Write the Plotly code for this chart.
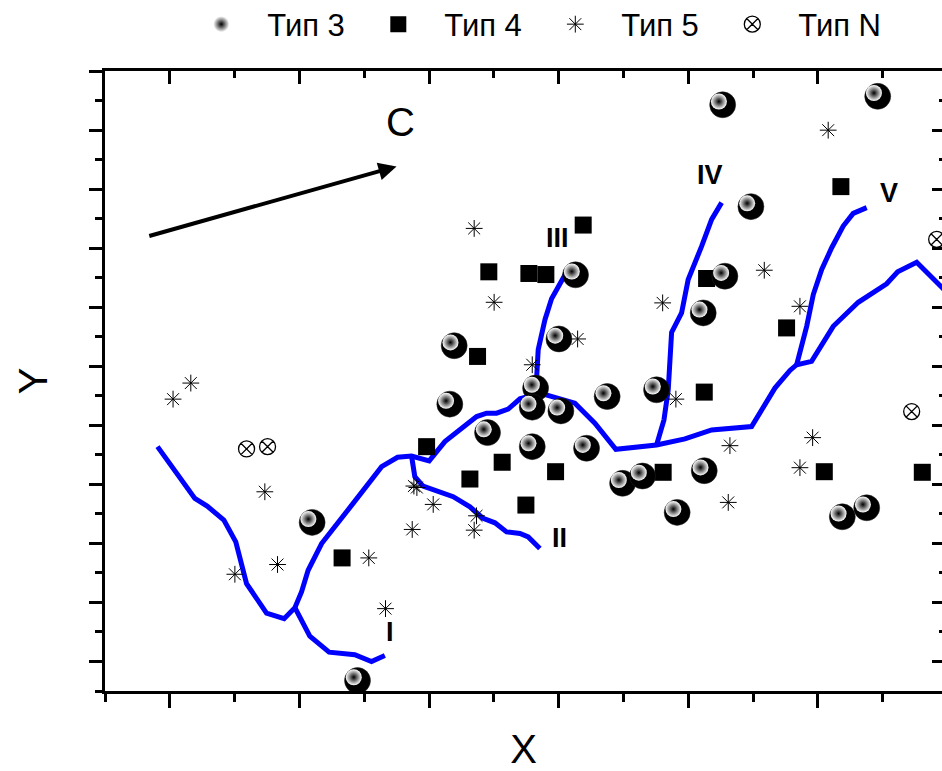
import plotly.graph_objs as go

# Тип 3 (balls)
type3_x = [4.265, 5.461, 4.483, 3.130, 4.282, 4.115, 3.002, 2.194, 2.822, 2.796, 3.017, 2.160, 2.451,
           3.374, 3.755, 2.796, 3.215, 3.493, 3.647, 4.123, 3.914, 5.188, 5.376, 1.098, 1.448]
type3_y = [9.428, 9.571, 7.703, 6.548, 6.525, 5.903, 5.462, 5.348, 4.630, 4.307, 4.244, 4.358, 3.876,
           4.487, 4.601, 3.638, 3.611, 3.017, 3.141, 3.231, 2.525, 2.450, 2.603, 2.355, -0.323]

# Тип 4 (squares)
type4_x = [2.461, 2.374, 3.189, 2.770, 2.901, 4.141, 5.177, 4.758, 1.981, 2.315, 2.564, 1.329,
           2.747, 4.123, 2.976, 3.806, 5.049, 5.805]
type4_y = [6.599, 5.166, 7.391, 6.571, 6.553, 6.486, 8.042, 5.649, 3.638, 3.090, 3.374, 1.754,
           2.649, 4.562, 3.214, 3.204, 3.214, 3.204]

# Тип 5 (asterisks)
type5_x = [2.348, 2.502, 5.079, 4.586, 3.802, 4.861, 3.146, 2.796, 0.025, 0.162, 0.733, 0.502, 0.831,
           1.535, 1.664, 1.883, 1.906, 2.032, 1.870, 2.366, 2.348, 3.904, 4.321, 4.959, 4.861, 4.308]
type5_y = [7.334, 6.083, 8.998, 6.626, 6.073, 6.015, 5.462, 5.025, 4.443, 4.715, 2.874, 1.477, 1.642,
           1.754, 0.895, 2.971, 2.946, 2.660, 2.236, 2.467, 2.224, 4.443, 3.655, 3.791, 3.282, 2.694]

# Тип N
typeN_x = [0.592, 0.754, 5.723, 5.916]
typeN_y = [3.599, 3.638, 4.233, 7.148]

# blue lines
trunk_x = [-0.095, 0.193, 0.288, 0.417, 0.509, 0.592, 0.746, 0.882, 0.965, 1.016, 1.067, 1.171, 1.414,
           1.634, 1.757, 1.865, 2.001, 2.122, 2.367, 2.444, 2.521, 2.610, 2.701, 2.832, 2.855, 3.125,
           3.279, 3.441, 3.755, 3.974, 4.180, 4.488, 4.668, 4.784, 4.836, 4.951, 5.118, 5.311, 5.530,
           5.615, 5.762, 5.980]
trunk_y = [3.638, 2.762, 2.632, 2.394, 2.025, 1.319, 0.820, 0.725, 0.912, 1.177, 1.545, 1.998, 2.677,
           3.299, 3.458, 3.480, 3.396, 3.723, 4.148, 4.205, 4.205, 4.273, 4.448, 4.533, 4.545, 4.375,
           4.036, 3.594, 3.667, 3.769, 3.922, 3.978, 4.630, 4.929, 5.026, 5.082, 5.676, 6.083, 6.396,
           6.599, 6.762, 6.282]

branch1_x = [0.965, 1.080, 1.229, 1.427, 1.556, 1.659]
branch1_y = [0.912, 0.430, 0.158, 0.114, 0.000, 0.102]

branch2_x = [1.865, 1.890, 1.954, 2.186, 2.315, 2.417, 2.508, 2.598, 2.701, 2.765, 2.855]
branch2_y = [3.480, 3.129, 2.971, 2.790, 2.620, 2.423, 2.348, 2.195, 2.168, 2.110, 1.913]

branch3_x = [2.832, 2.829, 2.842, 2.894, 2.945, 3.035, 3.063]
branch3_y = [4.533, 4.771, 5.280, 5.789, 6.141, 6.525, 6.604]

branch4_x = [3.755, 3.812, 3.845, 3.871, 3.948, 3.999, 4.103, 4.180, 4.257]
branch4_y = [3.667, 4.092, 4.601, 5.574, 5.903, 6.469, 7.034, 7.487, 7.771]

branch5_x = [4.836, 4.913, 4.964, 5.029, 5.106, 5.195, 5.272, 5.376]
branch5_y = [5.026, 5.676, 6.214, 6.638, 7.007, 7.374, 7.589, 7.686]

branch_labels = ["I", "II", "III", "IV", "V"]
label_x = [1.698, 3.004, 2.991, 4.167, 5.550]
label_y = [0.498, 2.093, 7.177, 8.234, 7.941]

arrow_tail = (-0.170, 7.199)
arrow_head = (1.749, 8.384)
c_label = (1.782, 9.139)

x_range = [-0.5, 5.957]
y_range = [-0.5, 10]

font_main = "Liberation Sans, Arial, sans-serif"

fig = go.Figure()

for bx, by in [(trunk_x, trunk_y), (branch1_x, branch1_y), (branch2_x, branch2_y),
               (branch3_x, branch3_y), (branch4_x, branch4_y), (branch5_x, branch5_y)]:
    fig.add_trace(go.Scatter(
        x = bx, y = by, mode = "lines",
        line = dict(color = "#0000FF", width = 5),
        showlegend = False, hoverinfo = "skip"
    ))

fig.add_trace(go.Scatter(
    x = type5_x, y = type5_y, mode = "markers", name = "Тип 5", legendrank = 3,
    marker = dict(symbol = "asterisk-open", size = 14, color = "black", line = dict(width = 1, color = "black"))
))

fig.add_trace(go.Scatter(
    x = typeN_x, y = typeN_y, mode = "markers", name = "Тип N", legendrank = 4,
    marker = dict(symbol = "circle-x-open", size = 16, color = "black", line = dict(width = 1.3, color = "black"))
))

fig.add_trace(go.Scatter(
    x = type4_x, y = type4_y, mode = "markers", name = "Тип 4", legendrank = 2,
    marker = dict(symbol = "square", size = 17, color = "black")
))

# ball body
fig.add_trace(go.Scatter(
    x = type3_x, y = type3_y, mode = "markers", name = "Тип 3", legendgroup = "t3",
    showlegend = False,
    marker = dict(symbol = "circle", size = 26, color = "black", line = dict(width = 0.5, color = "#222"))
))
# ball highlight (shifted up-left)
dx, dy = -0.029, 0.056
fig.add_trace(go.Scatter(
    x = [v + dx for v in type3_x], y = [v + dy for v in type3_y],
    mode = "markers", name = "Тип 3", legendgroup = "t3", legendrank = 1,
    marker = dict(symbol = "circle", size = 16, color = "white",
                  gradient = dict(type = "radial", color = "black"), line = dict(width = 0))
))

# dummy trace for the mirrored top/right tick axes
fig.add_trace(go.Scatter(x = [], y = [], xaxis = "x2", yaxis = "y2", showlegend = False))

annotations = []
for t, lx, ly in zip(branch_labels, label_x, label_y):
    annotations.append(dict(x = lx, y = ly, text = "<b>" + t + "</b>", showarrow = False,
                            font = dict(family = font_main, size = 27, color = "black")))
annotations.append(dict(x = arrow_head[0], y = arrow_head[1], ax = arrow_tail[0], ay = arrow_tail[1],
                        xref = "x", yref = "y", axref = "x", ayref = "y", text = "", showarrow = True,
                        arrowhead = 2, arrowsize = 0.9, arrowwidth = 4, arrowcolor = "black", standoff = 0))
annotations.append(dict(x = c_label[0], y = c_label[1], text = "C", showarrow = False,
                        font = dict(family = font_main, size = 40, color = "black")))

tick_common = dict(showgrid = False, zeroline = False, showticklabels = False)

fig.update_layout(
    width = 942, height = 771,
    margin = dict(l = 105, r = 0, t = 71, b = 80, autoexpand = False),
    plot_bgcolor = "white", paper_bgcolor = "white",
    font = dict(family = font_main, color = "black"),
    annotations = annotations,
    legend = dict(orientation = "h", x = 0.084, y = 1.075, xanchor = "left", yanchor = "middle",
                  font = dict(family = font_main, size = 31, color = "black"),
                  itemwidth = 82, entrywidth = 80, traceorder = "normal"),
    xaxis = dict(range = x_range, dtick = 1, tick0 = 0, ticks = "outside", ticklen = 14, tickwidth = 3,
                 tickcolor = "black", showline = True, linewidth = 3, linecolor = "black", mirror = True,
                 minor = dict(ticks = "outside", ticklen = 8, tickwidth = 3, dtick = 0.5, tick0 = 0,
                              tickcolor = "black"),
                 title = dict(text = "X", font = dict(size = 40), standoff = 41), **tick_common),
    yaxis = dict(range = y_range, dtick = 1, tick0 = 0, ticks = "outside", ticklen = 13, tickwidth = 3,
                 tickcolor = "black", showline = True, linewidth = 3, linecolor = "black", mirror = False,
                 minor = dict(ticks = "outside", ticklen = 7, tickwidth = 3, dtick = 0.5, tick0 = 0,
                              tickcolor = "black"),
                 title = dict(text = "Y", font = dict(size = 40), standoff = 30), **tick_common),
    xaxis2 = dict(overlaying = "x", side = "top", anchor = "y", range = x_range, dtick = 1, tick0 = 0,
                  ticks = "inside", ticklen = 13, tickwidth = 3, tickcolor = "black", showline = False,
                  minor = dict(ticks = "inside", ticklen = 7, tickwidth = 3, dtick = 0.5, tick0 = 0,
                               tickcolor = "black"), **tick_common),
    yaxis2 = dict(overlaying = "y", side = "right", anchor = "x", range = y_range, dtick = 1, tick0 = 0,
                  ticks = "inside", ticklen = 10, tickwidth = 3, tickcolor = "black", showline = False,
                  minor = dict(ticks = "inside", ticklen = 3, tickwidth = 3, dtick = 0.5, tick0 = 0,
                               tickcolor = "black"), **tick_common),
)

# drop the default 8px body margin so the figure fills the window exactly
fig.write_html("out.html", config = {"displayModeBar": False},
               post_script = "document.body.style.margin = '0';")
